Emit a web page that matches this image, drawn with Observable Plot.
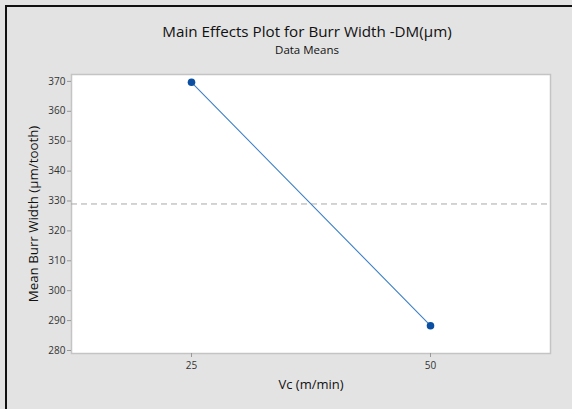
<!DOCTYPE html>
<html>
<head>
<meta charset="utf-8">
<script src="https://cdn.jsdelivr.net/npm/d3@7"></script>
<script src="https://cdn.jsdelivr.net/npm/@observablehq/plot@0.6"></script>
<style>
  html, body { margin: 0; padding: 0; background: #e3e3e3; }
  #panel { position: relative; width: 572px; height: 409px; background: #e3e3e3; overflow: hidden;
           font-family: "Open Sans", "Noto Sans", sans-serif; }
  #edgeTop { position: absolute; left: 5px; top: 5px; width: 567px; height: 2px; background: #111; }
  #edgeLeft { position: absolute; left: 5px; top: 5px; width: 2px; height: 404px; background: #111; }
  #title { position: absolute; left: 0; top: 21px; width: 614px; text-align: center; font-size: 15.2px; color: #111; }
  #subtitle { position: absolute; left: 0; top: 42px; width: 614px; text-align: center; font-size: 11.5px; color: #111; }
  #chart { position: absolute; left: 0; top: 60px; }
</style>
</head>
<body>
<div id="panel">
  <div id="edgeTop"></div>
  <div id="edgeLeft"></div>
  <div id="title">Main Effects Plot for Burr Width -DM(µm)</div>
  <div id="subtitle">Data Means</div>
  <div id="chart"></div>
</div>
<script>
// Cutting speed levels and the mean burr width at each level
const speeds = ["25", "50"];
const burrMeans = [369.7, 288.3];
const yTicks = [280, 290, 300, 310, 320, 330, 340, 350, 360, 370];
const xTitle = "Vc (m/min)";
const yTitle = "Mean Burr Width (µm/tooth)";

const rows = speeds.map((s, i) => ({speed: s, mean: burrMeans[i]}));
const grandMean = d3.mean(burrMeans);

const chart = Plot.plot({
  width: 572,
  height: 349,
  marginLeft: 71,
  marginRight: 22,
  marginTop: 14,
  marginBottom: 56,
  style: {background: "transparent", fontFamily: "'Open Sans', 'Noto Sans', sans-serif", fontSize: "10px", color: "#333"},
  x: {type: "point", domain: speeds, padding: 0.5, label: null},
  y: {domain: [279, 372.3], label: null},
  marks: [
    Plot.frame({fill: "white", stroke: "#c4c4c4", strokeWidth: 1.5}),
    Plot.ruleY([grandMean], {stroke: "#a8a8a8", strokeWidth: 1, strokeDasharray: "6,4"}),
    Plot.axisX({ticks: speeds, tickSize: 4, tickPadding: 4, stroke: "#999", fill: "#333", fontSize: 10}),
    Plot.axisY({ticks: yTicks, tickSize: 4, tickPadding: 2, stroke: "#999", fill: "#333", fontSize: 10}),
    Plot.line(rows, {x: "speed", y: "mean", stroke: "#3d7fc6", strokeWidth: 1.1}),
    Plot.dot(rows, {x: "speed", y: "mean", r: 3.8, fill: "#0b4fa3", stroke: "none"}),
    Plot.text([xTitle], {frameAnchor: "bottom", dy: 35, text: d => d, fontSize: 13, fill: "#111"}),
    Plot.text([yTitle], {frameAnchor: "left", textAnchor: "middle", dx: -38, rotate: -90, text: d => d, fontSize: 13.3, fill: "#111"})
  ]
});
document.getElementById("chart").appendChild(chart);
</script>
</body>
</html>
